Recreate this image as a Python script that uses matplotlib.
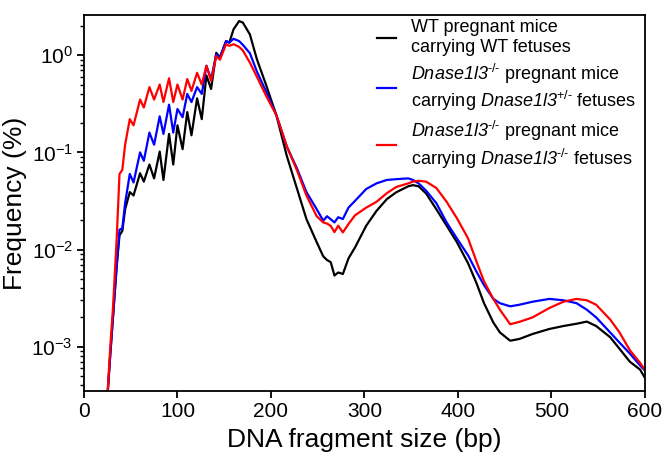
import matplotlib
matplotlib.use('Agg')
import matplotlib.pyplot as plt

plt.rcParams['font.family'] = 'Liberation Sans'
plt.rcParams['mathtext.fontset'] = 'custom'
plt.rcParams['mathtext.rm'] = 'Liberation Sans'
plt.rcParams['mathtext.it'] = 'Liberation Sans:italic'
# italic digits too (mathtext keeps digits upright in \mathit)
plt.rcParams['mathtext.sf'] = 'Liberation Sans:italic'

# fragment size (bp), shared by the three profiles
size_bp = [25, 28, 31, 35, 38, 41, 44, 49, 53, 60, 64, 70, 75, 81, 85, 91, 95.5,
           100, 105.5, 110.5, 115, 121, 126, 131, 136, 141.5, 145.5, 152, 155.5,
           160, 166, 170, 177.5, 185, 195, 206, 217, 228, 238, 249, 256, 260, 264,
           268, 272, 277, 283, 290, 302, 313, 324, 334, 347, 352, 358, 366, 377,
           388, 399, 411, 420, 428, 438, 445, 456, 466, 480, 498, 513, 527, 538,
           548, 563, 573, 584, 595, 600]

# frequency (%)
wt = [3e-4, 0.0008, 0.002, 0.0068, 0.014, 0.0155, 0.026, 0.039, 0.036, 0.061,
      0.050, 0.075, 0.054, 0.102, 0.052, 0.155, 0.075, 0.19, 0.108, 0.26, 0.15,
      0.36, 0.22, 0.62, 0.45, 1.06, 0.95, 1.40, 1.35, 1.85, 2.25, 2.17, 1.64,
      0.91, 0.49, 0.238, 0.092, 0.042, 0.0206, 0.0119, 0.0085, 0.0078, 0.0074,
      0.0054, 0.0058, 0.0056, 0.0081, 0.0105, 0.0176, 0.025, 0.033, 0.0388,
      0.0448, 0.046, 0.0448, 0.0378, 0.026, 0.0176, 0.0119, 0.0072, 0.0045,
      0.0028, 0.00177, 0.0014, 0.00115, 0.0012, 0.00135, 0.00152, 0.00163,
      0.00172, 0.00181, 0.00163, 0.00125, 0.00095, 0.0007, 0.00058, 0.00048]

het = [3e-4, 0.0008, 0.002, 0.0068, 0.016, 0.0165, 0.030, 0.06, 0.049, 0.10,
       0.082, 0.16, 0.12, 0.235, 0.155, 0.31, 0.16, 0.28, 0.23, 0.40, 0.33,
       0.47, 0.40, 0.78, 0.57, 1.02, 0.95, 1.40, 1.35, 1.48, 1.40, 1.28, 1.05,
       0.68, 0.42, 0.24, 0.115, 0.068, 0.039, 0.026, 0.0198, 0.022, 0.0205,
       0.019, 0.0215, 0.0206, 0.027, 0.0317, 0.042, 0.048, 0.052, 0.053, 0.054,
       0.052, 0.048, 0.0404, 0.030, 0.019, 0.013, 0.0087, 0.0059, 0.0043,
       0.0031, 0.0028, 0.0026, 0.0027, 0.0029, 0.0031, 0.0030, 0.0028, 0.0024,
       0.0020, 0.0014, 0.0011, 0.00085, 0.00064, 0.00057]

ko = [3e-4, 0.00095, 0.0025, 0.013, 0.06, 0.066, 0.12, 0.22, 0.19, 0.35, 0.29,
      0.47, 0.35, 0.50, 0.33, 0.58, 0.33, 0.50, 0.35, 0.57, 0.43, 0.66, 0.50,
      0.78, 0.545, 0.98, 0.90, 1.30, 1.25, 1.30, 1.22, 1.12, 0.84, 0.60, 0.38,
      0.24, 0.115, 0.065, 0.036, 0.022, 0.019, 0.0185, 0.0175, 0.0151, 0.0176,
      0.015, 0.0183, 0.0225, 0.027, 0.031, 0.038, 0.044, 0.048, 0.050, 0.051,
      0.050, 0.043, 0.031, 0.021, 0.013, 0.0075, 0.0047, 0.0031, 0.0024,
      0.0017, 0.0018, 0.0020, 0.0025, 0.0029, 0.0031, 0.0030, 0.0027, 0.0019,
      0.0014, 0.00092, 0.00068, 0.00058]

gene = r'\mathsf{Dnase1l3}'
labels = ['WT pregnant mice\ncarrying WT fetuses',
          '$' + gene + r'^{‐/‐}$ pregnant mice' + '\n'
          + 'carrying $' + gene + r'^{+/‐}$ fetuses',
          '$' + gene + r'^{‐/‐}$ pregnant mice' + '\n'
          + 'carrying $' + gene + r'^{‐/‐}$ fetuses']

fig = plt.figure(figsize=(6.64, 4.54), dpi=100)
ax = fig.add_axes([0.1265, 0.139, 0.8445, 0.828])

ax.plot(size_bp, wt, color='black', lw=1.6, label=labels[0])
ax.plot(size_bp, het, color='#0000ff', lw=1.6, label=labels[1])
ax.plot(size_bp, ko, color='#ff0000', lw=1.6, label=labels[2])

ax.set_yscale('log')
ax.set_xlim(0, 600)
ax.set_ylim(3.5e-4, 2.6)
ax.set_xticks(range(0, 601, 100))

for s in ax.spines.values():
    s.set_linewidth(1.3)
ax.tick_params(axis='both', which='major', direction='out', length=5, width=1.3,
               labelsize=15, pad=3)
ax.tick_params(axis='y', which='minor', direction='out', length=3, width=1.0)

ax.set_xlabel('DNA fragment size (bp)', fontsize=19, labelpad=5)
ax.set_ylabel('Frequency (%)', fontsize=19, labelpad=3)

ax.legend(loc='upper right', bbox_to_anchor=(1.0, 1.012), frameon=False,
          fontsize=13, handlelength=1.05, handletextpad=0.8,
          labelspacing=0.3, borderaxespad=0.1)

fig.savefig('out.png', dpi=100)
